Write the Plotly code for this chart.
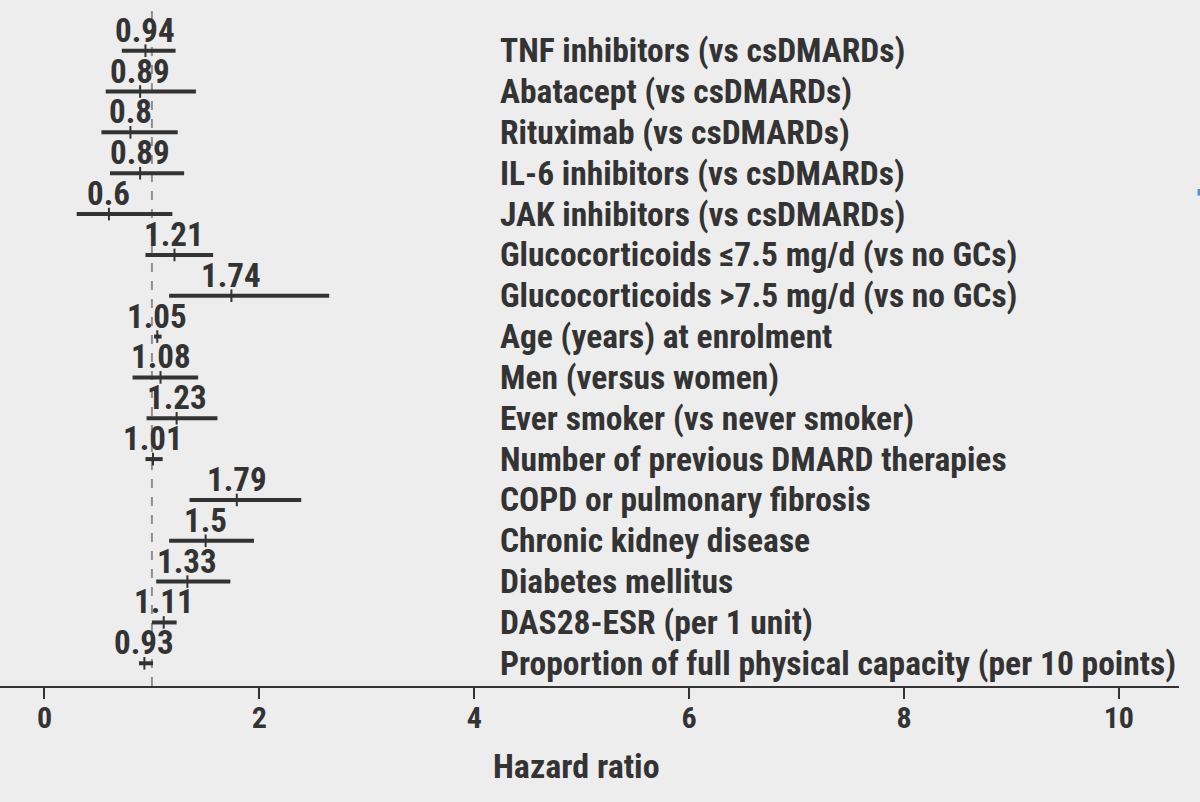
import plotly.graph_objects as go

labels = [
    "TNF inhibitors (vs csDMARDs)",
    "Abatacept (vs csDMARDs)",
    "Rituximab (vs csDMARDs)",
    "IL-6 inhibitors (vs csDMARDs)",
    "JAK inhibitors (vs csDMARDs)",
    "Glucocorticoids ≤7.5 mg/d (vs no GCs)",
    "Glucocorticoids >7.5 mg/d (vs no GCs)",
    "Age (years) at enrolment",
    "Men (versus women)",
    "Ever smoker (vs never smoker)",
    "Number of previous DMARD therapies",
    "COPD or pulmonary fibrosis",
    "Chronic kidney disease",
    "Diabetes mellitus",
    "DAS28-ESR (per 1 unit)",
    "Proportion of full physical capacity (per 10 points)",
]
hr = [0.94, 0.89, 0.8, 0.89, 0.6, 1.21, 1.74, 1.05, 1.08, 1.23, 1.01, 1.79, 1.5, 1.33, 1.11, 0.93]
ci_low = [0.72, 0.57, 0.53, 0.61, 0.30, 0.94, 1.16, 1.02, 0.82, 0.95, 0.94, 1.35, 1.16, 1.04, 1.00, 0.88]
ci_high = [1.22, 1.41, 1.24, 1.30, 1.19, 1.57, 2.65, 1.09, 1.43, 1.61, 1.10, 2.39, 1.95, 1.73, 1.23, 1.01]
hr_text = ["0.94", "0.89", "0.8", "0.89", "0.6", "1.21", "1.74", "1.05", "1.08", "1.23", "1.01", "1.79", "1.5", "1.33", "1.11", "0.93"]
x_ticks = [0, 2, 4, 6, 8, 10]

FONT = "Roboto Condensed, Liberation Sans Narrow, Roboto, sans-serif"
TXT = "#333333"
BG = "#ecedec"

rows = list(range(len(labels)))

fig = go.Figure()
fig.add_trace(go.Scatter(
    x=hr, y=rows, mode="markers",
    marker=dict(symbol="line-ns", size=9, line=dict(color=TXT, width=2), color=TXT),
    error_x=dict(type="data", symmetric=False,
                 array=[h - hr[i] for i, h in enumerate(ci_high)],
                 arrayminus=[hr[i] - l for i, l in enumerate(ci_low)],
                 color=TXT, thickness=4, width=0),
    showlegend=False, hoverinfo="skip",
))

annotations = []
for i, (lab, v, t) in enumerate(zip(labels, hr, hr_text)):
    annotations.append(dict(x=4.222, y=i, xref="x", yref="y", text="<b>%s</b>" % lab,
                            showarrow=False, xanchor="left", yanchor="middle",
                            font=dict(family=FONT, size=33.5, color=TXT)))
    annotations.append(dict(x=v, y=i, xref="x", yref="y", text="<b>%s</b>" % t,
                            showarrow=False, xanchor="center", yanchor="middle", yshift=20.5,
                            font=dict(family=FONT, size=33, color=TXT)))
annotations.append(dict(x=0.489, y=0, xref="paper", yref="paper", text="<b>Hazard ratio</b>",
                        showarrow=False, xanchor="center", yanchor="middle", yshift=-80,
                        font=dict(family=FONT, size=34, color=TXT)))

fig.update_layout(
    width=1200, height=802,
    margin=dict(l=0, r=21, t=0, b=116),
    paper_bgcolor=BG, plot_bgcolor=BG,
    annotations=annotations,
    xaxis=dict(range=[-0.414, 10.56], tickvals=x_ticks, ticktext=["<b>%d</b>" % v for v in x_ticks],
               showgrid=False, zeroline=False, showline=True, linecolor=TXT, linewidth=2,
               ticks="outside", ticklen=11, tickwidth=2, tickcolor=TXT,
               ticklabelstandoff=-7,
               tickfont=dict(family=FONT, size=30, color=TXT)),
    yaxis=dict(range=[15.556, -1.241], showgrid=False, zeroline=False, showticklabels=False,
               showline=False),
    shapes=[
        dict(type="line", xref="x", yref="paper", x0=1, x1=1, y0=0, y1=0.995,
             line=dict(color="#8f8f8f", width=2, dash="dash"), layer="below"),
        dict(type="rect", xref="paper", yref="paper", x0=1197.5 / 1179, x1=1200 / 1179,
             y0=(686 - 195.5) / 686, y1=(686 - 189) / 686,
             line=dict(width=0), fillcolor="#4a8fe0"),
    ],
)

fig.write_html("out.html", config={"displayModeBar": False},
               post_script="document.body.style.margin='0px';document.body.style.background='%s';" % BG)
